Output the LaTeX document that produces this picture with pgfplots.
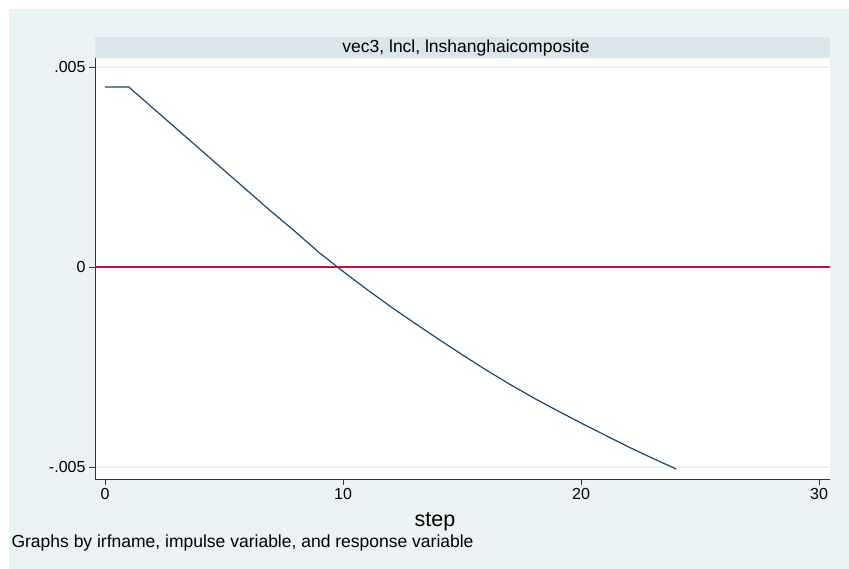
\documentclass[border=0pt]{standalone}
\usepackage{pgfplots}
\pgfplotsset{compat=1.18}
\usepackage{fontspec}
\setmainfont{Liberation Sans}
\definecolor{bgc}{RGB}{234,242,243}
\definecolor{strip}{RGB}{217,230,235}
\definecolor{gridc}{RGB}{234,242,243}
\definecolor{navyc}{RGB}{26,71,111}
\definecolor{redc}{RGB}{175,25,55}
\begin{document}
\begin{tikzpicture}[x=1pt,y=1pt]
\fill[white] (0,0) rectangle (849,569);
\fill[bgc] (9,0) rectangle (849,560);
\fill[strip] (95,511) rectangle (830,532);
\node[font=\fontsize{17.5}{19}\selectfont] at (466,521.5) {vec3, lncl, lnshanghaicomposite};
\begin{axis}[
  at={(95pt,90pt)}, anchor=south west, scale only axis,
  width=735pt, height=421pt,
  xmin=-0.42, xmax=30.46, ymin=-0.0053, ymax=0.005225,
  axis background/.style={fill=white},
  axis x line*=bottom, axis y line*=left,
  axis line style={-, line width=0.9pt, black!80},
  tick align=outside, major tick length=6pt,
  tick style={line width=0.8pt, black!80},
  xtick={0,10,20,30},
  ytick={-0.005,0,0.005},
  yticklabels={-.005,0,.005},
  scaled y ticks=false, scaled x ticks=false,
  /pgf/number format/assume math mode=true,
  ticklabel style={font=\fontsize{16}{18}\selectfont},
  ymajorgrids, major grid style={gridc, line width=1.2pt},
  clip=true,
]
\addplot[redc, line width=1.3pt, forget plot] coordinates {(-0.42,0) (30.46,0)};
\addplot[navyc, line width=1.2pt] coordinates {
(0,0.0045) (1,0.0045) (2,0.00398) (3,0.00346) (4,0.00294) (5,0.00242)
(6,0.0019) (7,0.00138) (8,0.00088) (9,0.00036) (10,-0.00011)
(11,-0.00056) (12,-0.00099) (13,-0.0014) (14,-0.0018) (15,-0.00219)
(16,-0.00257) (17,-0.00293) (18,-0.00327) (19,-0.00359) (20,-0.0039)
(21,-0.0042) (22,-0.0045) (23,-0.00478) (24,-0.00505)};
\end{axis}
\node[font=\fontsize{21.5}{23}\selectfont] at (435,47) {step};
\node[anchor=base west, font=\fontsize{17.5}{19}\selectfont] at (8,21) {Graphs by irfname, impulse variable, and response variable};
\pgfresetboundingbox
\useasboundingbox (0,0) rectangle (849,569);
\end{tikzpicture}
\end{document}
